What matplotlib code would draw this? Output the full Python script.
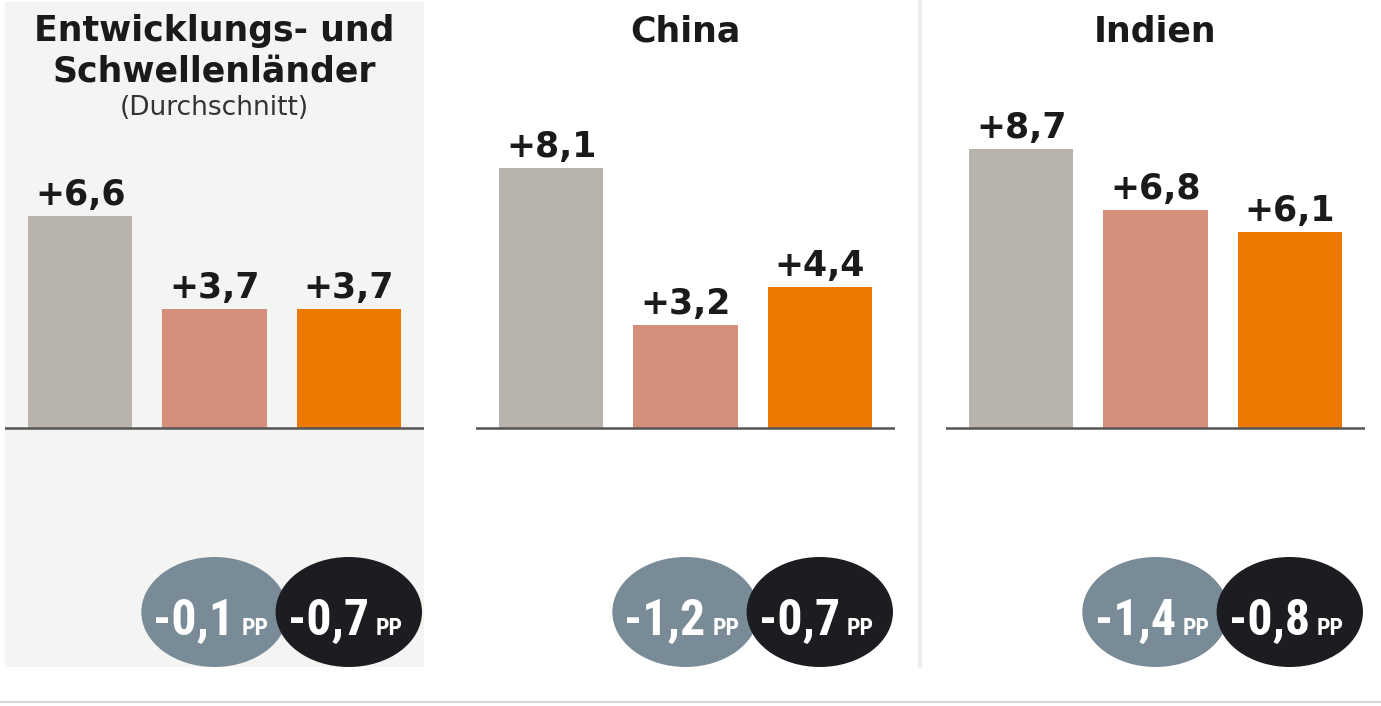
import matplotlib
matplotlib.use('Agg')
import matplotlib.pyplot as plt
from matplotlib import font_manager
from matplotlib.font_manager import FontProperties
from matplotlib.patches import Ellipse
from matplotlib.lines import Line2D

# Daten
regions = ['Entwicklungs- und\nSchwellenländer', 'China', 'Indien']
subtitles = ['(Durchschnitt)', '', '']
values_a = [6.6, 8.1, 8.7]   # grau
values_b = [3.7, 3.2, 6.8]   # rosa
values_c = [3.7, 4.4, 6.1]   # orange
diff_b = ['-0,1', '-1,2', '-1,4']
diff_c = ['-0,7', '-0,7', '-0,8']

bar_colors = ['#b8b3ad', '#d5907b', '#ed7a00']
ell_colors = ['#7a8b98', '#1c1d20']
panel_bg = ['#f4f4f2', 'white', 'white']

# schmale Schrift für die Kreise suchen
files = [f.fname for f in font_manager.fontManager.ttflist]
cond_file = None
for pat in ['LiberationSansNarrow-Bold.', 'RobotoCondensed-Bold', 'OpenSans_Condensed-Bold',
            'OpenSansCondensed-Bold', 'DejaVuSansCondensed-Bold.', 'NotoSans-CondensedBold']:
    hits = [f for f in files if pat in f.split('/')[-1]]
    if hits:
        cond_file = hits[0]
        break
if cond_file:
    fp_big = FontProperties(fname=cond_file, size=36)
    fp_pp = FontProperties(fname=cond_file, size=17)
else:
    fp_big = FontProperties(family='DejaVu Sans', weight='bold', size=28)
    fp_pp = FontProperties(family='DejaVu Sans', weight='bold', size=15)

W, H = 1381, 706
fig = plt.figure(figsize=(W / 100, H / 100), dpi=100)

px_per_unit = 32.1
base_y = 428
top_px, bot_px = 2, 667
lefts = [5, 476, 946]
ax_w = 419

def fmt(v):
    return ('+%.1f' % v).replace('.', ',')

for i in range(3):
    ax = fig.add_axes([lefts[i] / W, (H - bot_px) / H, ax_w / W, (bot_px - top_px) / H])
    ax.set_facecolor(panel_bg[i])
    vals = [values_a[i], values_b[i], values_c[i]]
    ax.bar([0, 1, 2], vals, width=0.775, color=bar_colors, zorder=2)
    ax.set_xlim(-0.56, 2.56)
    ax.set_ylim(-(bot_px - base_y) / px_per_unit, (base_y - top_px) / px_per_unit)
    ax.axhline(0, color='#555555', lw=1.8, zorder=3)
    for s in ax.spines.values():
        s.set_visible(False)
    ax.set_xticks([])
    ax.set_yticks([])

    for x, v in enumerate(vals):
        ax.annotate(fmt(v), (x, v), xytext=(0, 8), textcoords='offset points',
                    ha='center', va='baseline', fontsize=25, fontweight='bold',
                    color='#1a1a1a', family='DejaVu Sans')

    # Titel
    lines = regions[i].split('\n')
    for k, line in enumerate(lines):
        ax.text(0.5, 1 - (39 + 41 * k) / (bot_px - top_px), line, transform=ax.transAxes,
                ha='center', va='baseline', fontsize=25, fontweight='bold',
                color='#1a1a1a', family='DejaVu Sans')
    if subtitles[i]:
        ax.text(0.5, 1 - 113 / (bot_px - top_px), subtitles[i], transform=ax.transAxes,
                ha='center', va='baseline', fontsize=19, color='#333333',
                family='DejaVu Sans')

    # Veränderungen in Prozentpunkten
    ell_y = -(612 - base_y) / px_per_unit
    txt_y = -(635 - base_y) / px_per_unit
    for j, (lab, col) in enumerate(zip([diff_b[i], diff_c[i]], ell_colors)):
        cx = j + 1
        ax.add_patch(Ellipse((cx, ell_y), 1.09, 110 / px_per_unit, facecolor=col,
                             edgecolor='none', zorder=4 + j, clip_on=False))
        ax.text(cx + 0.15, txt_y, lab, ha='right', va='baseline', fontproperties=fp_big,
                color='white', zorder=6 + j)
        ax.text(cx + 0.2, txt_y, 'PP', ha='left', va='baseline', fontproperties=fp_pp,
                color='white', zorder=6 + j)

# Trennlinien
fig.add_artist(Line2D([920 / W, 920 / W], [(H - 666) / H, (H - 2) / H],
                      color='#eeeeee', lw=3))
fig.add_artist(Line2D([0, 1], [(H - 702) / H, (H - 702) / H], color='#d6d6d6', lw=1.5))

fig.savefig('out.png', dpi=100)
